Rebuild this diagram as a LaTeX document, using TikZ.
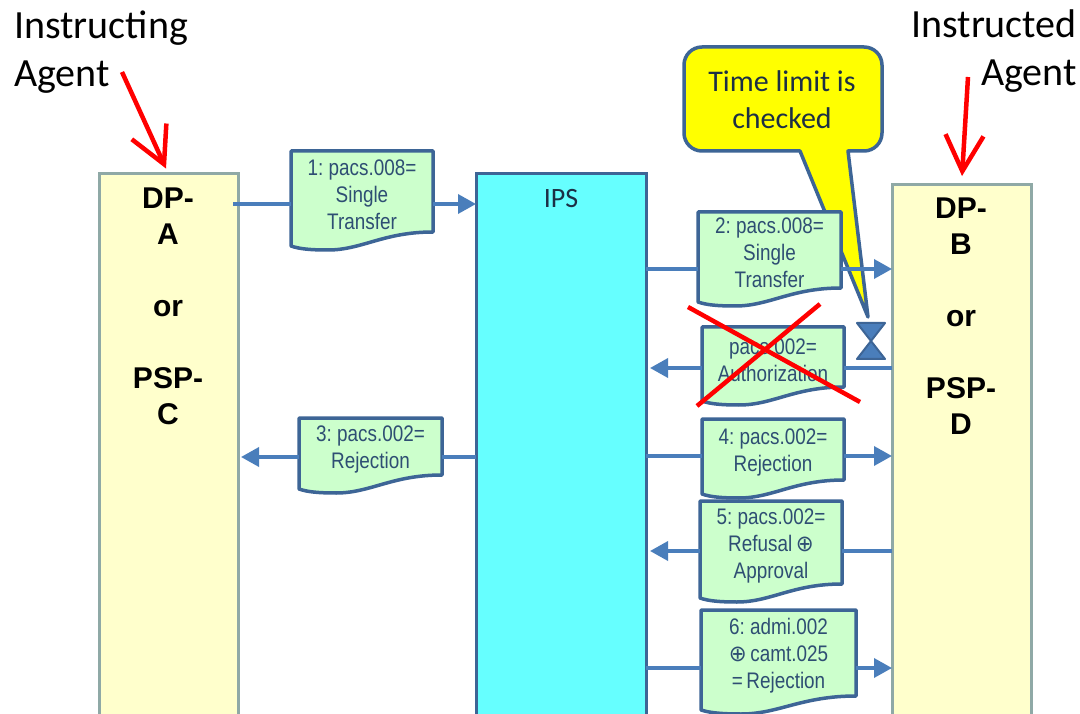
\documentclass[tikz,border=0pt]{standalone}
\usepackage{amsmath}
\usepackage{fontspec}
\usetikzlibrary{arrows.meta}
\usepackage{xcolor}
\setmainfont{Liberation Sans}
\newfontfamily\calibrifont{Carlito}
\newfontfamily\narrowfont[FakeStretch=0.84,WordSpace=0.7]{Liberation Sans}
\newfontfamily\symbolfont[FakeStretch=0.95]{DejaVu Sans}
\definecolor{laneline}{HTML}{8FA9A6}
\definecolor{lanefill}{HTML}{FFFFCC}
\definecolor{ipsfill}{HTML}{66FFFF}
\definecolor{docfill}{HTML}{CCFFCC}
\definecolor{limitfill}{HTML}{FFFF00}
\definecolor{bluedark}{HTML}{3D6596}
\definecolor{bluelink}{HTML}{4A7EBB}
\definecolor{doctextcol}{HTML}{2E4E73}
\definecolor{limittext}{HTML}{1C2F45}
\tikzset{
  lanebox/.style={draw=laneline,line width=3pt,fill=lanefill,anchor=north,minimum width=139pt,minimum height=600pt,inner sep=0pt,outer sep=0pt},
  lanetext/.style={font=\fontsize{30}{36}\selectfont\bfseries,align=center,anchor=north,inner sep=0pt},
  agenttext/.style={font=\calibrifont\fontsize{40}{48}\selectfont,inner sep=0pt},
  docline/.style={draw=bluedark,line width=3.5pt,fill=docfill,line join=round},
  doctext/.style={font=\narrowfont\fontsize{22.5}{27}\selectfont,text=doctextcol,align=center,inner sep=0pt},
  link/.style={draw=bluelink,line width=3.5pt,-{Triangle[length=18pt,width=19pt]}},
  linkplain/.style={draw=bluelink,line width=3.5pt},
  redarrow/.style={draw=red,line width=4.5pt,-{Straight Barb[length=36pt,width=38pt,line width=4.5pt]}},
  redcross/.style={draw=red,line width=4.5pt}
}
% name, left, top, right, bottom of flat side, y of the connector, text
\newcommand{\docbox}[7]{
  \draw[docline] (#2,#3) -- (#4,#3) -- (#4,#5)
    .. controls ({#4-0.35*(#4-#2)},#5) and ({#2+0.5*(#4-#2)},#5+18) .. ({#2+0.26*(#4-#2)},#5+18)
    .. controls ({#2+0.14*(#4-#2)},#5+18) and ({#2+0.06*(#4-#2)},#5+17) .. (#2,#5+14) -- cycle;
  \node[doctext] (#1) at ({0.5*(#2+#4)},{0.5*(#3+#5)+3}) {#7};
  \coordinate (#1l) at (#2,#6);
  \coordinate (#1r) at (#4,#6);
}
\newcommand{\bigxor}{{\symbolfont ⊕}}
\begin{document}
\begin{tikzpicture}[x=1pt,y=-1pt]
  \clip (0,0) rectangle (1080,714);
  \fill[white] (0,0) rectangle (1080,714);

  \node[lanebox] (dpa) at (168.5,174) {};
  \node[lanebox] (dpb) at (961.5,185) {};
  \node[lanebox,draw=bluedark,fill=ipsfill,minimum width=170pt] (ips) at (561,174) {};
  \node[lanetext] (dpatext) at (168,188) {DP-\\A\\\mbox{}\\or\\\mbox{}\\PSP-\\C};
  \node[lanetext] (dpbtext) at (961,198) {DP-\\B\\\mbox{}\\or\\\mbox{}\\PSP-\\D};
  \node[font=\calibrifont\fontsize{28}{30}\selectfont,text=limittext] (ipstext) at (561,199) {IPS};

  \node[agenttext,align=left,anchor=north west] (instructing) at (14,11) {Instructing\\Agent};
  \node[agenttext,align=right,anchor=north east] (instructed) at (1077,10) {Instructed\\Agent};
  \coordinate (atail) at (122,72);
  \coordinate (btail) at (968,77);
  \draw[redarrow,shorten >=6pt] (atail) -- (dpa.north);
  \draw[redarrow,shorten >=9pt] (btail) -- (dpb.north);

  % callout goes behind message 2
  \draw[draw=bluedark,line width=3.5pt,fill=limitfill,line join=round] (848,151)
    [rounded corners=18pt] -- (882,151) -- (882,47) -- (684,47) -- (684,151)
    [sharp corners] -- (800,151) -- (868,317) -- cycle;
  \node[font=\calibrifont\fontsize{30}{37}\selectfont,text=limittext,align=center,inner sep=0pt] (limit) at (782,100) {Time limit is\\checked};

  \docbox{msgone}{291}{151}{433}{232}{204}{1: pacs.008=\\Single\\Transfer}
  \docbox{msgtwo}{698}{212}{841}{288}{269}{2: pacs.008=\\Single\\Transfer}
  \docbox{msgx}{702}{327}{844}{387}{368}{pacs.002=\\Authorization}
  \docbox{msgthree}{299}{418}{442}{475}{457}{3: pacs.002=\\Rejection}
  \docbox{msgfour}{702}{419}{844}{480}{456}{4: pacs.002=\\Rejection}
  \docbox{msgfive}{700}{501}{842}{584}{551}{5: pacs.002=\\Refusal \bigxor\\Approval}
  \docbox{msgsix}{701}{610}{856}{696}{668}{6: admi.002\\\bigxor\ camt.025\\= Rejection}

  \draw[linkplain,shorten <=-5pt] (dpa.east |- msgonel) -- (msgonel);
  \draw[link] (msgoner) -- (ips.west |- msgoner);
  \draw[linkplain] (ips.east |- msgtwol) -- (msgtwol);
  \draw[link] (msgtwor) -- (dpb.west |- msgtwor);
  \draw[linkplain] (dpb.west |- msgxr) -- (msgxr);
  \draw[link] (msgxl) -- ([xshift=4pt]ips.east |- msgxl);
  \draw[linkplain] (ips.west |- msgthreer) -- (msgthreer);
  \draw[link] (msgthreel) -- ([xshift=3pt]dpa.east |- msgthreel);
  \draw[linkplain] (ips.east |- msgfourl) -- (msgfourl);
  \draw[link] (msgfourr) -- (dpb.west |- msgfourr);
  \draw[linkplain] (dpb.west |- msgfiver) -- (msgfiver);
  \draw[link] (msgfivel) -- ([xshift=4pt]ips.east |- msgfivel);
  \draw[linkplain] (ips.east |- msgsixl) -- (msgsixl);
  \draw[link] (msgsixr) -- (dpb.west |- msgsixr);

  % hourglass
  \draw[draw=bluedark,line width=2pt,fill=bluelink,line join=round] (857,323) -- (885,323) -- (857,359) -- (885,359) -- cycle;

  \draw[redcross] (688,307) -- (860,402);
  \draw[redcross] (820,304) -- (697,406);
\end{tikzpicture}
\end{document}
